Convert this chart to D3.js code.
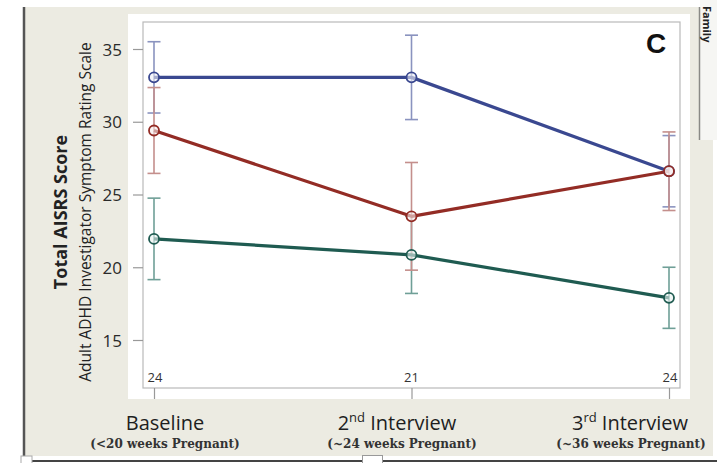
<!DOCTYPE html>
<html>
<head>
<meta charset="utf-8">
<script src="https://cdn.jsdelivr.net/npm/d3@7"></script>
<style>
  html, body { margin: 0; padding: 0; background: #ffffff; }
  svg { display: block; }
</style>
</head>
<body>
<svg id="chart" width="717" height="463"></svg>
<script>
// Visits across pregnancy
const timepoints = ["Baseline", "2nd Interview", "3rd Interview"];
const visitLabels = [
  { main: "Baseline", sup: "", rest: "" },
  { main: "2", sup: "nd", rest: " Interview" },
  { main: "3", sup: "rd", rest: " Interview" }
];
const visitNotes = ["(<20 weeks Pregnant)", "(~24 weeks Pregnant)", "(~36 weeks Pregnant)"];
const sampleSizes = [24, 21, 24];

// Mean AISRS totals and error-bar half widths per group
const blueMeans = [33.05, 33.05, 26.6];
const blueErrors = [2.45, 2.9, 2.45];
const redMeans = [29.4, 23.5, 26.6];
const redErrors = [2.95, 3.7, 2.7];
const tealMeans = [21.95, 20.85, 17.9];
const tealErrors = [2.8, 2.65, 2.1];

const yTicks = [15, 20, 25, 30, 35];

const series = [
  { means: blueMeans, errors: blueErrors, line: "#3a4890", bar: "#8a93bf", fill: "#eef0f7" },
  { means: tealMeans, errors: tealErrors, line: "#1f5b51", bar: "#6f9f97", fill: "#eaf3f1" },
  { means: redMeans, errors: redErrors, line: "#932c25", bar: "#c48f8c", fill: "#f7eded" }
];

const svg = d3.select("#chart");

// Panel background and borders
svg.append("rect").attr("x", 25).attr("y", 7).attr("width", 688).attr("height", 449).attr("fill", "#ecebe2");
svg.append("rect").attr("x", 700).attr("y", 0).attr("width", 17).attr("height", 140).attr("fill", "#f6f6f3");
svg.append("line").attr("x1", 699.5).attr("x2", 699.5).attr("y1", 7).attr("y2", 140)
  .attr("stroke", "#8a8a86").attr("stroke-width", 1.5);
svg.append("text").attr("transform", "translate(703,6) rotate(90)")
  .attr("font-family", "Open Sans, sans-serif").attr("font-weight", 700).attr("font-size", 11)
  .attr("fill", "#222").text("Family");
svg.append("line").attr("x1", 24).attr("x2", 24).attr("y1", 7).attr("y2", 456)
  .attr("stroke", "#555").attr("stroke-width", 2.5);
svg.append("line").attr("x1", 24).attr("x2", 717).attr("y1", 461).attr("y2", 461)
  .attr("stroke", "#444").attr("stroke-width", 2);
svg.append("rect").attr("x", 362.5).attr("y", 455.5).attr("width", 20).attr("height", 9)
  .attr("fill", "#fff").attr("stroke", "#999");
svg.append("rect").attr("x", 21).attr("y", 456).attr("width", 11).attr("height", 9)
  .attr("fill", "#fff").attr("stroke", "#aaa");

// White plotting panel with its frame
svg.append("rect").attr("x", 128).attr("y", 14).attr("width", 562).attr("height", 385).attr("fill", "#ffffff");
const frame = { left: 143, right: 680, top: 22, bottom: 388 };
svg.append("rect").attr("x", frame.left).attr("y", frame.top)
  .attr("width", frame.right - frame.left).attr("height", frame.bottom - frame.top)
  .attr("fill", "none").attr("stroke", "#b9b9b9").attr("stroke-width", 1.2);

const x = d3.scalePoint().domain(timepoints).range([154, 669]);
const y = d3.scaleLinear().domain([15, 35]).range([340, 49]);

// Axes
const yAxis = svg.append("g").attr("transform", `translate(${frame.left},0)`)
  .call(d3.axisLeft(y).tickValues(yTicks).tickSize(10).tickPadding(11));
yAxis.select(".domain").remove();
yAxis.selectAll("line").attr("stroke", "#999").attr("stroke-width", 1.2);
yAxis.selectAll("text").attr("font-family", "Open Sans, sans-serif").attr("font-size", 17)
  .attr("fill", "#2a2a2a").attr("dy", "0.36em");

const xAxis = svg.append("g").attr("transform", `translate(0,${frame.bottom})`)
  .call(d3.axisBottom(x).tickSize(11).tickFormat(""));
xAxis.select(".domain").remove();
xAxis.selectAll("line").attr("stroke", "#999").attr("stroke-width", 1.2);

// Sample sizes along the bottom of the frame
const nShift = [1, 0, 1];
svg.append("g").selectAll("text").data(sampleSizes).join("text")
  .attr("x", (d, i) => x(timepoints[i]) + nShift[i])
  .attr("y", 382).attr("text-anchor", "middle")
  .attr("font-family", "Open Sans, sans-serif").attr("font-size", 13).attr("fill", "#333")
  .text(d => d);

// Error bars, lines and markers
const line = d3.line().x((d, i) => x(timepoints[i])).y(d => y(d));
const capHalf = 6.5;

series.forEach(s => {
  const g = svg.append("g");
  s.means.forEach((m, i) => {
    const cx = x(timepoints[i]);
    const lo = y(m - s.errors[i]), hi = y(m + s.errors[i]);
    g.append("line").attr("x1", cx).attr("x2", cx).attr("y1", hi).attr("y2", lo)
      .attr("stroke", s.bar).attr("stroke-width", 1.6);
    [hi, lo].forEach(cy => g.append("line")
      .attr("x1", cx - capHalf).attr("x2", cx + capHalf).attr("y1", cy).attr("y2", cy)
      .attr("stroke", s.bar).attr("stroke-width", 1.6));
  });
});

series.forEach(s => {
  svg.append("path").datum(s.means).attr("d", line)
    .attr("fill", "none").attr("stroke", s.line).attr("stroke-width", 3.2)
    .attr("stroke-linejoin", "round");
});

series.forEach(s => {
  svg.append("g").selectAll("circle").data(s.means).join("circle")
    .attr("cx", (d, i) => x(timepoints[i])).attr("cy", d => y(d)).attr("r", 5)
    .attr("fill", s.fill).attr("fill-opacity", 0.6)
    .attr("stroke", s.line).attr("stroke-width", 1.8);
});

// Panel letter
svg.append("text").attr("x", 656).attr("y", 53).attr("text-anchor", "middle")
  .attr("font-family", "Liberation Sans, Arial, sans-serif").attr("font-weight", 700)
  .attr("font-size", 28).attr("fill", "#111").text("C");

// Y-axis titles
svg.append("text").attr("transform", "translate(67,212) rotate(-90)")
  .attr("text-anchor", "middle").attr("font-family", "Open Sans, sans-serif")
  .attr("font-weight", 700).attr("font-size", 18).attr("fill", "#222")
  .text("Total AISRS Score");
svg.append("text").attr("transform", "translate(91,212) rotate(-90)")
  .attr("text-anchor", "middle").attr("font-family", "Open Sans, sans-serif")
  .attr("font-size", 15.5).attr("fill", "#222")
  .text("Adult ADHD Investigator Symptom Rating Scale");

// Visit labels under the panel
const labelCenters = [165, 397, 630];
const noteCenters = [165, 402, 631];
visitLabels.forEach((lab, i) => {
  const t = svg.append("text").attr("x", labelCenters[i]).attr("y", 430)
    .attr("text-anchor", "middle").attr("font-family", "Open Sans, sans-serif")
    .attr("font-size", 20).attr("fill", "#1e1e1e");
  t.append("tspan").text(lab.main);
  if (lab.sup) {
    t.append("tspan").attr("dy", -8).attr("font-size", 13).text(lab.sup);
    t.append("tspan").attr("dy", 8).text(lab.rest);
  }
  svg.append("text").attr("x", noteCenters[i]).attr("y", 448)
    .attr("text-anchor", "middle").attr("font-family", "DejaVu Serif, serif")
    .attr("font-weight", 700).attr("font-size", 12).attr("fill", "#333")
    .text(visitNotes[i]);
});
</script>
</body>
</html>
